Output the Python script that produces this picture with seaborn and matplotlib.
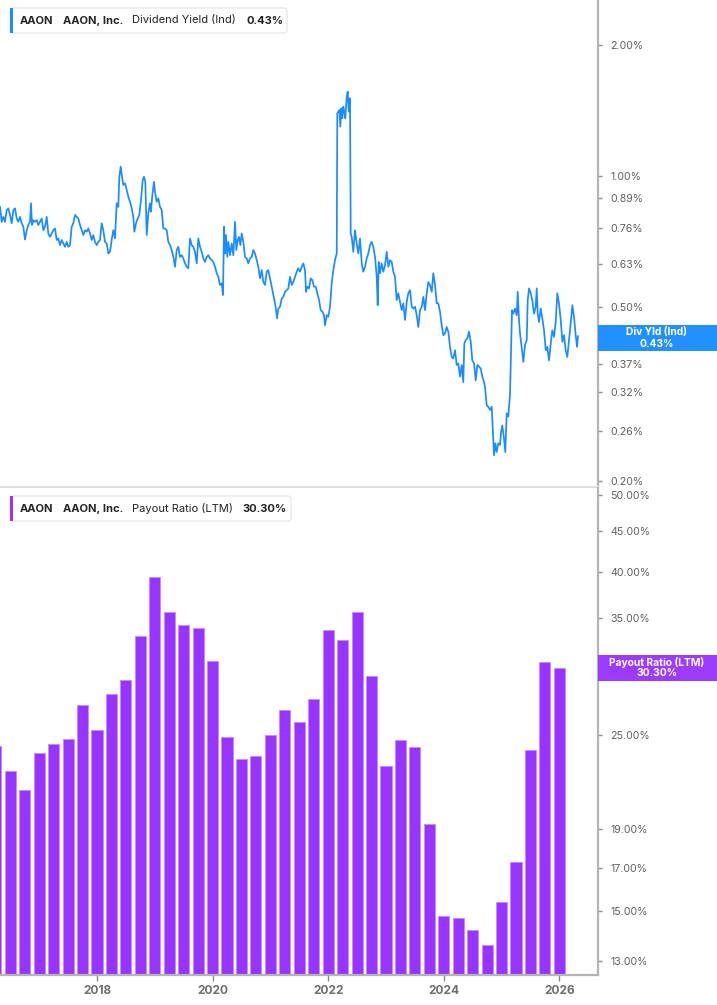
import numpy as np
import pandas as pd
import matplotlib
matplotlib.use('Agg')
import matplotlib.pyplot as plt
from matplotlib.patches import FancyBboxPatch, Rectangle
from matplotlib.ticker import FixedLocator, NullLocator
import seaborn as sns

# --- dividend yield (%), daily-ish trace, x in decimal years
yield_t = [
    2016.322, 2016.351, 2016.379, 2016.408, 2016.437, 2016.465, 2016.495, 2016.524, 2016.552, 2016.581,
    2016.611, 2016.638, 2016.668, 2016.697, 2016.725, 2016.754, 2016.784, 2016.811, 2016.841, 2016.858,
    2016.875, 2016.898, 2016.927, 2016.957, 2016.984, 2017.014, 2017.043, 2017.071, 2017.100, 2017.130,
    2017.157, 2017.187, 2017.216, 2017.244, 2017.273, 2017.303, 2017.330, 2017.360, 2017.389, 2017.417,
    2017.446, 2017.476, 2017.503, 2017.533, 2017.562, 2017.590, 2017.619, 2017.649, 2017.676, 2017.706,
    2017.735, 2017.763, 2017.792, 2017.822, 2017.849, 2017.879, 2017.908, 2017.936, 2017.965, 2017.995,
    2018.022, 2018.052, 2018.081, 2018.109, 2018.138, 2018.168, 2018.196, 2018.225, 2018.254, 2018.282,
    2018.311, 2018.341, 2018.369, 2018.386, 2018.410, 2018.433, 2018.455, 2018.485, 2018.514, 2018.542,
    2018.571, 2018.601, 2018.628, 2018.646, 2018.675, 2018.704, 2018.732, 2018.761, 2018.791, 2018.813,
    2018.836, 2018.860, 2018.888, 2018.917, 2018.934, 2018.957, 2018.986, 2019.004, 2019.033, 2019.061,
    2019.090, 2019.120, 2019.147, 2019.177, 2019.206, 2019.234, 2019.263, 2019.293, 2019.321, 2019.350,
    2019.379, 2019.407, 2019.436, 2019.466, 2019.493, 2019.523, 2019.552, 2019.580, 2019.609, 2019.639,
    2019.666, 2019.696, 2019.725, 2019.753, 2019.782, 2019.812, 2019.840, 2019.869, 2019.898, 2019.926,
    2019.955, 2019.985, 2020.012, 2020.042, 2020.071, 2020.099, 2020.128, 2020.158, 2020.180, 2020.198,
    2020.215, 2020.232, 2020.255, 2020.272, 2020.302, 2020.331, 2020.359, 2020.388, 2020.411, 2020.435,
    2020.457, 2020.480, 2020.504, 2020.532, 2020.561, 2020.591, 2020.618, 2020.648, 2020.677, 2020.705,
    2020.734, 2020.764, 2020.791, 2020.821, 2020.850, 2020.878, 2020.907, 2020.937, 2020.964, 2020.994,
    2021.023, 2021.051, 2021.080, 2021.098, 2021.115, 2021.137, 2021.167, 2021.196, 2021.224, 2021.253,
    2021.283, 2021.310, 2021.340, 2021.369, 2021.397, 2021.426, 2021.456, 2021.483, 2021.513, 2021.542,
    2021.570, 2021.599, 2021.617, 2021.639, 2021.668, 2021.698, 2021.726, 2021.755, 2021.785, 2021.812,
    2021.842, 2021.871, 2021.899, 2021.928, 2021.945, 2021.975, 2022.002, 2022.032, 2022.061, 2022.089,
    2022.118, 2022.148, 2022.158, 2022.176, 2022.193, 2022.210, 2022.227, 2022.245, 2022.262, 2022.279,
    2022.297, 2022.321, 2022.338, 2022.356, 2022.378, 2022.390, 2022.407, 2022.435, 2022.464, 2022.494,
    2022.522, 2022.551, 2022.581, 2022.608, 2022.638, 2022.667, 2022.695, 2022.724, 2022.754, 2022.781,
    2022.811, 2022.840, 2022.857, 2022.875, 2022.897, 2022.927, 2022.954, 2022.984, 2023.013, 2023.041,
    2023.070, 2023.100, 2023.127, 2023.157, 2023.186, 2023.214, 2023.243, 2023.273, 2023.300, 2023.330,
    2023.359, 2023.387, 2023.416, 2023.446, 2023.473, 2023.503, 2023.532, 2023.560, 2023.589, 2023.619,
    2023.646, 2023.676, 2023.705, 2023.733, 2023.762, 2023.792, 2023.819, 2023.849, 2023.878, 2023.906,
    2023.935, 2023.965, 2023.992, 2024.022, 2024.051, 2024.079, 2024.108, 2024.138, 2024.165, 2024.195,
    2024.224, 2024.252, 2024.281, 2024.311, 2024.338, 2024.356, 2024.380, 2024.408, 2024.437, 2024.467,
    2024.494, 2024.524, 2024.553, 2024.581, 2024.610, 2024.640, 2024.667, 2024.697, 2024.714, 2024.743,
    2024.771, 2024.801, 2024.830, 2024.847, 2024.870, 2024.892, 2024.916, 2024.944, 2024.974, 2024.991,
    2025.013, 2025.043, 2025.065, 2025.089, 2025.117, 2025.147, 2025.164, 2025.181, 2025.204, 2025.233,
    2025.263, 2025.280, 2025.302, 2025.320, 2025.349, 2025.377, 2025.406, 2025.436, 2025.453, 2025.476,
    2025.505, 2025.532, 2025.562, 2025.591, 2025.609, 2025.626, 2025.648, 2025.678, 2025.706, 2025.735,
    2025.765, 2025.792, 2025.822, 2025.851, 2025.878, 2025.908, 2025.937, 2025.965, 2025.994, 2026.024,
    2026.052, 2026.081, 2026.110, 2026.138, 2026.168, 2026.197, 2026.225, 2026.254, 2026.283, 2026.306,
    2026.323,
]
yield_v = [
    0.851, 0.786, 0.807, 0.786, 0.836, 0.844, 0.815, 0.780, 0.836, 0.844,
    0.800, 0.786, 0.807, 0.780, 0.766, 0.716, 0.752, 0.773, 0.786, 0.867,
    0.773, 0.793, 0.786, 0.793, 0.773, 0.786, 0.800, 0.752, 0.766, 0.807,
    0.739, 0.726, 0.739, 0.752, 0.759, 0.714, 0.720, 0.695, 0.714, 0.701,
    0.689, 0.707, 0.689, 0.695, 0.766, 0.780, 0.815, 0.807, 0.800, 0.773,
    0.752, 0.733, 0.752, 0.746, 0.759, 0.739, 0.714, 0.733, 0.707, 0.695,
    0.707, 0.714, 0.780, 0.752, 0.707, 0.701, 0.665, 0.671, 0.714, 0.752,
    0.720, 0.867, 0.851, 0.997, 1.052, 0.997, 0.955, 0.963, 0.930, 0.897,
    0.874, 0.844, 0.807, 0.746, 0.780, 0.800, 0.815, 0.882, 0.980, 0.997,
    0.971, 0.733, 0.822, 0.867, 0.829, 0.905, 0.971, 0.921, 0.874, 0.890,
    0.851, 0.836, 0.759, 0.759, 0.752, 0.707, 0.695, 0.677, 0.653, 0.620,
    0.677, 0.689, 0.653, 0.659, 0.648, 0.631, 0.620, 0.615, 0.720, 0.695,
    0.689, 0.671, 0.631, 0.720, 0.689, 0.671, 0.648, 0.636, 0.653, 0.659,
    0.648, 0.642, 0.636, 0.620, 0.599, 0.588, 0.563, 0.568, 0.534, 0.766,
    0.665, 0.733, 0.653, 0.707, 0.659, 0.701, 0.659, 0.786, 0.677, 0.714,
    0.726, 0.695, 0.739, 0.707, 0.653, 0.648, 0.631, 0.648, 0.653, 0.677,
    0.665, 0.642, 0.620, 0.583, 0.609, 0.572, 0.563, 0.604, 0.609, 0.583,
    0.558, 0.534, 0.511, 0.493, 0.472, 0.497, 0.502, 0.524, 0.529, 0.543,
    0.548, 0.553, 0.588, 0.563, 0.572, 0.588, 0.604, 0.615, 0.604, 0.620,
    0.631, 0.609, 0.543, 0.558, 0.553, 0.583, 0.578, 0.558, 0.558, 0.539,
    0.520, 0.493, 0.489, 0.480, 0.455, 0.480, 0.476, 0.502, 0.568, 0.609,
    0.642, 0.665, 1.395, 1.407, 1.419, 1.299, 1.432, 1.358, 1.444, 1.407,
    1.358, 1.523, 1.563, 1.407, 1.510, 0.739, 0.726, 0.671, 0.752, 0.701,
    0.665, 0.720, 0.631, 0.604, 0.620, 0.648, 0.665, 0.695, 0.707, 0.689,
    0.653, 0.588, 0.506, 0.636, 0.599, 0.631, 0.604, 0.625, 0.671, 0.620,
    0.642, 0.636, 0.604, 0.588, 0.520, 0.539, 0.515, 0.493, 0.511, 0.468,
    0.515, 0.539, 0.548, 0.502, 0.497, 0.502, 0.480, 0.451, 0.493, 0.502,
    0.529, 0.493, 0.539, 0.572, 0.563, 0.543, 0.599, 0.563, 0.511, 0.511,
    0.489, 0.455, 0.432, 0.436, 0.451, 0.440, 0.406, 0.385, 0.382, 0.399,
    0.369, 0.372, 0.347, 0.369, 0.337, 0.413, 0.421, 0.424, 0.440, 0.417,
    0.378, 0.372, 0.340, 0.369, 0.366, 0.362, 0.347, 0.337, 0.329, 0.298,
    0.296, 0.291, 0.296, 0.266, 0.229, 0.244, 0.233, 0.244, 0.242, 0.259,
    0.268, 0.250, 0.233, 0.286, 0.281, 0.317, 0.392, 0.493, 0.484, 0.497,
    0.480, 0.543, 0.468, 0.436, 0.403, 0.375, 0.410, 0.421, 0.520, 0.553,
    0.539, 0.520, 0.484, 0.502, 0.553, 0.484, 0.463, 0.497, 0.472, 0.443,
    0.399, 0.406, 0.378, 0.413, 0.443, 0.428, 0.463, 0.539, 0.511, 0.468,
    0.417, 0.432, 0.399, 0.385, 0.421, 0.460, 0.506, 0.476, 0.432, 0.406,
    0.430,
]

# --- payout ratio (LTM, %), quarterly 2016Q1 .. 2025Q4
quarters = pd.period_range('2016Q1', '2025Q4', freq='Q')
payout = [
    24.2, 22.5, 21.3, 23.7, 24.3, 24.7, 27.2, 25.3, 28.1, 29.3,
    33.2, 39.4, 35.6, 34.3, 34.0, 30.9, 24.8, 23.3, 23.5, 25.0,
    26.8, 25.9, 27.7, 33.8, 32.9, 35.6, 29.6, 22.8, 24.6, 24.1,
    19.3, 14.8, 14.7, 14.2, 13.6, 15.4, 17.3, 23.9, 30.8, 30.3,
]
quarter_t = [q.year + q.quarter / 4 for q in quarters]

yield_ticks = [2.00, 1.00, 0.89, 0.76, 0.63, 0.50, 0.37, 0.32, 0.26, 0.20]
payout_ticks = [50, 45, 40, 35, 30, 25, 19, 17, 15, 13]
year_ticks = [2018, 2020, 2022, 2024, 2026]

BLUE = '#1a8cff'
PURPLE = '#9933ff'
GRID = '#b4b4b4'
TXT = '#5f5f5f'

sns.set_theme(style='white')
plt.rcParams['font.family'] = ['Inter', 'DejaVu Sans']

W, H = 717, 1005
fig = plt.figure(figsize=(W / 100, H / 100), dpi=100)


def fx(px):
    return px / W


def fy(py):
    return 1 - py / H


ax1 = fig.add_axes([0, fy(487), fx(598), 487 / H])
ax2 = fig.add_axes([0, fy(975), fx(598), (975 - 488) / H])

# top panel: dividend yield line
ax1.set_yscale('log')
sns.lineplot(x=yield_t, y=yield_v, ax=ax1, color=BLUE, lw=1.25,
             estimator=None, sort=False)
ax1.set_ylim(0.1937, 2.537)

# bottom panel: payout ratio bars
ax2.set_yscale('log')
sns.barplot(x=quarter_t, y=payout, ax=ax2, native_scale=True, color=PURPLE,
            saturation=1, width=0.77, errorbar=None,
            edgecolor='#c08cff', linewidth=0.6)
ax2.set_ylim(12.47, 51.0)

for ax in (ax1, ax2):
    ax.set_xlim(2016.3215, 2026.669)
    ax.set_facecolor('white')
    ax.yaxis.tick_right()
    ax.yaxis.set_minor_locator(NullLocator())
    ax.spines['left'].set_visible(False)
    ax.spines['top'].set_visible(False)
    ax.spines['right'].set_color(GRID)
    ax.spines['right'].set_linewidth(1.6)
    ax.tick_params(axis='y', which='major', right=True, length=3, width=1,
                   color='#8a8a8a', pad=6, labelsize=7.6, labelcolor=TXT)
    ax.set_xlabel('')
    ax.set_ylabel('')
    ax.grid(False)

ax1.yaxis.set_major_locator(FixedLocator(yield_ticks))
ax1.set_yticklabels([f'{v:.2f}%' for v in yield_ticks])
ax1.set_xticks([])
ax1.spines['bottom'].set_color('#dedede')
ax1.spines['bottom'].set_linewidth(1.6)

ax2.yaxis.set_major_locator(FixedLocator(payout_ticks))
ax2.set_yticklabels([f'{v:.2f}%' for v in payout_ticks])
ax2.xaxis.set_minor_locator(NullLocator())
ax2.set_xticks(year_ticks)
ax2.set_xticklabels([str(y) for y in year_ticks])
ax2.spines['bottom'].set_color(GRID)
ax2.spines['bottom'].set_linewidth(1.6)
ax2.tick_params(axis='x', bottom=True, length=4, width=1, color='#8a8a8a',
                pad=3, labelsize=8.6, labelcolor='#6e6e6e')
for lab in ax2.get_xticklabels():
    lab.set_fontweight('bold')


# legend chips at top-left of each panel
def chip(x0, x1, y0, y1, color, parts):
    box = FancyBboxPatch((fx(x0), fy(y1)), fx(x1 - x0), (y1 - y0) / H,
                         boxstyle='round,pad=0,rounding_size=0.004',
                         transform=fig.transFigure, facecolor='white',
                         edgecolor='#e4e4e4', lw=0.8, zorder=5)
    fig.patches.append(box)
    strip = Rectangle((fx(x0), fy(y1)), fx(3), (y1 - y0) / H,
                      transform=fig.transFigure, facecolor=color,
                      edgecolor='none', zorder=6)
    fig.patches.append(strip)
    yc = fy((y0 + y1) / 2)
    for px, txt, weight in parts:
        fig.text(fx(px), yc, txt, ha='left', va='center', fontsize=8,
                 fontweight=weight, color='#222222', zorder=7)


chip(10, 287, 8, 33, BLUE, [
    (20, 'AAON', 'bold'), (63, 'AAON, Inc.', 'bold'),
    (131.5, 'Dividend Yield (Ind)', 'normal'), (246.5, '0.43%', 'bold')])
chip(10, 291, 496, 521, PURPLE, [
    (20, 'AAON', 'bold'), (63, 'AAON, Inc.', 'bold'),
    (131.5, 'Payout Ratio (LTM)', 'normal'), (242, '30.30%', 'bold')])


# last-value flags on the right axis
def flag(y0, y1, color, line1, line2):
    r = Rectangle((fx(598), fy(y1)), fx(W - 598), (y1 - y0) / H,
                  transform=fig.transFigure, facecolor=color,
                  edgecolor='none', alpha=0.96, zorder=8)
    fig.patches.append(r)
    xc = fx(657)
    fig.text(xc, fy(y0 + 7), line1, ha='center', va='center', fontsize=7.4,
             fontweight='bold', color='white', zorder=9)
    fig.text(xc, fy(y0 + 18.5), line2, ha='center', va='center', fontsize=7.4,
             fontweight='bold', color='white', zorder=9)


flag(325, 351, BLUE, 'Div Yld (Ind)', '0.43%')
flag(655, 681, PURPLE, 'Payout Ratio (LTM)', '30.30%')

fig.savefig('out.png', dpi=100, facecolor='white')
